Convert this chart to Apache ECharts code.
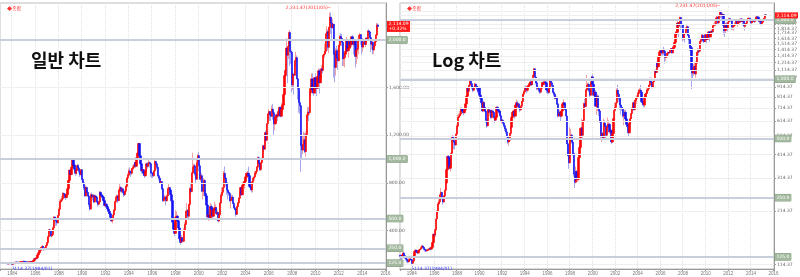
<!DOCTYPE html>
<html><head><meta charset="utf-8">
<script src="https://cdn.jsdelivr.net/npm/echarts@6/dist/echarts.min.js"></script>
<style>html,body{margin:0;padding:0;background:#fff}#c{width:800px;height:277px}</style>
</head><body><div id="c"></div><script>
// Monthly KOSPI-like index, 1983/01 .. 2015/05
const closeValues = [
126,124,128,131,127,125,122,120,118,121,122,121,
116,119,127,133,135,133,131,134,136,137,139,142,
140,137,136,134,135,136,137,138,137,140,148,163,
162,172,195,212,232,238,258,266,252,238,255,273,
297,347,405,400,353,363,421,513,503,479,464,525,
577,640,651,665,710,707,689,677,700,750,820,907,
870,930,1003,950,915,880,905,945,925,900,870,910,
830,800,760,690,760,720,690,620,580,700,680,696,
640,690,680,640,620,640,720,700,690,680,650,610,
620,600,580,560,540,510,480,490,530,570,640,678,
690,650,740,760,730,750,720,700,730,770,840,866,
900,890,880,920,930,950,970,940,1010,1050,1130,1027,
960,900,910,880,860,900,960,940,960,970,960,883,
880,860,900,980,960,930,860,840,800,810,750,651,
670,680,650,690,750,760,740,700,650,470,410,376,
510,520,480,420,330,300,340,310,310,400,450,562,
567,520,618,752,728,883,931,943,877,830,968,1028,
943,830,860,730,730,820,710,690,613,514,530,505,
600,580,520,570,590,590,540,550,480,530,630,694,
720,760,880,840,800,740,720,710,650,660,680,628,
590,575,535,600,630,670,710,760,700,780,800,811,
850,880,880,860,770,760,740,810,840,850,880,896,
932,1011,965,911,970,1008,1111,1083,1221,1158,1297,1379,
1399,1371,1359,1419,1389,1295,1297,1352,1371,1364,1399,1434,
1360,1417,1453,1542,1701,1744,1933,1873,1946,2064,1906,1897,
1624,1711,1704,1825,1852,1674,1594,1474,1448,1113,1076,1124,
1162,1063,1206,1369,1395,1390,1557,1591,1673,1580,1555,1683,
1602,1594,1693,1741,1641,1699,1759,1743,1873,1883,1905,2051,
2069,1939,2107,2192,2142,2101,2133,1880,1770,1910,1848,1826,
1956,2030,2014,1982,1843,1854,1881,1905,1996,1912,1932,1997,
1961,2027,2005,1964,2001,1863,1914,1926,1997,2040,2045,2011,
1941,1980,1986,1962,2017,2002,2076,2068,2020,1964,1981,1916,
1950,1986,2041,2127,2114
];
const highValues = [
128,127,129,133,132,128,126,123,121,123,124,124,
122,121,128,135,137,136,134,135,137,139,141,143,
144,141,138,137,136,138,139,140,139,141,149,164,
164,174,197,216,236,245,262,280,268,254,258,275,
302,350,410,415,400,370,430,520,515,515,480,530,
590,660,670,690,720,720,710,700,715,760,830,910,
915,935,1005,1008,955,920,915,960,955,930,905,915,
915,840,805,765,780,770,730,700,630,710,720,705,
700,700,700,690,650,650,730,730,710,700,690,660,
650,630,610,585,565,545,515,495,535,580,650,690,
700,700,745,790,775,760,760,730,740,780,845,880,
920,930,900,925,945,955,975,975,1015,1055,1138,1135,
1035,970,935,915,890,910,970,975,985,990,980,960,
900,890,905,990,985,965,930,870,845,830,815,760,
690,700,690,700,760,790,760,750,710,650,500,470,
570,560,530,490,420,330,360,345,330,420,470,565,
630,580,620,760,795,890,1052,960,960,890,1010,1040,
1059,960,900,880,770,840,830,740,700,620,580,540,
630,620,590,580,640,620,600,570,555,540,635,710,
760,760,900,937,850,810,790,740,720,680,700,700,
640,610,580,610,640,680,720,760,770,790,815,830,
860,890,900,936,860,800,760,820,850,900,890,900,
940,1020,1022,970,970,1010,1115,1120,1225,1240,1300,1385,
1420,1400,1390,1450,1464,1390,1320,1360,1380,1380,1410,1440,
1440,1470,1460,1550,1710,1810,2015,1950,1990,2085,2050,1990,
1910,1725,1720,1830,1900,1870,1680,1600,1570,1450,1200,1200,
1230,1220,1230,1380,1440,1435,1570,1620,1720,1720,1600,1690,
1720,1630,1700,1760,1760,1730,1790,1790,1880,1925,1970,2055,
2115,2090,2110,2230,2231.47,2140,2180,2130,1900,1930,1950,1925,
1960,2040,2057,2050,1980,1900,1890,1950,2025,2000,1940,2000,
2010,2030,2040,2010,2010,2000,1915,1930,2010,2060,2060,2050,
2010,1990,2000,2010,2020,2020,2082,2090,2080,2030,1990,1990,
1960,1990,2050,2143,2140
];
const lowValues = [
121,121,123,127,125,122,120,117,116,117,119,119,
114.37,115,118,126,131,131,129,130,133,135,136,138,
138,135,133,132,133,134,135,136,135,136,139,147,
155,158,170,190,205,225,235,250,245,230,236,252,
270,295,345,375,350,340,360,420,475,440,440,460,
520,570,630,640,660,680,670,655,670,695,745,815,
860,865,925,935,890,860,870,900,910,880,850,860,
820,790,740,680,690,700,680,600,566,575,670,650,
630,630,660,630,600,610,640,690,670,660,640,600,
595,590,570,545,530,505,470,459,480,520,560,630,
665,630,650,720,720,715,710,680,690,720,760,820,
860,860,850,865,900,910,930,925,935,990,1040,1010,
940,880,880,860,840,850,890,920,930,950,930,850,
840,840,850,895,940,910,850,820,790,790,740,640,
640,650,610,640,690,740,720,690,630,470,406,350.68,
376,480,470,410,320,280,295,300,300,305,395,440,
520,500,505,610,700,720,870,880,860,800,830,910,
900,830,810,725,660,690,700,650,600,500,480,490,
505,570,500,510,560,570,530,530,468,475,525,620,
680,700,770,830,770,700,660,690,640,584,650,620,
585,570,515,530,590,630,660,700,690,700,770,750,
800,850,840,860,770,740,719,720,800,820,840,860,
870,930,960,900,900,960,1000,1060,1080,1120,1150,1300,
1330,1320,1320,1360,1330,1203,1240,1290,1300,1320,1350,1380,
1350,1360,1390,1450,1540,1690,1740,1638,1840,1920,1780,1800,
1560,1580,1540,1700,1780,1670,1500,1390,1380,892,1000,1040,
1070,1050,1020,1190,1340,1320,1370,1530,1580,1550,1530,1550,
1550,1530,1600,1660,1550,1640,1680,1720,1760,1850,1880,1880,
2020,1910,1890,2100,2050,2010,2100,1684,1644,1700,1800,1750,
1820,1940,2000,1950,1780,1780,1770,1870,1900,1900,1850,1930,
1930,1940,1980,1880,1940,1770,1800,1840,1880,2000,1990,1960,
1880,1900,1930,1960,1940,1980,1990,2040,2010,1900,1920,1880,
1880,1930,1970,2040,2080
];
const firstOpen = 127.31;
const levelValues = [2000, 1000, 500, 250, 125];
const levelLabels = ['2,000.0', '1,000.0', '500.0', '250.0', '125.0'];
const linearTicks = [400, 800, 1200, 1600];
const linearTickLabels = ['400.00', '800.00', '1,200.00', '1,600.00'];
const logTicks = [114.37,214.37,314.37,414.37,514.37,614.37,714.37,814.37,914.37,1014.37,1114.37,1214.37,1314.37,1414.37,1514.37,1614.37,1714.37,1814.37,1914.37,2014.37,2114.37,2214.37];
const logTickLabels = ['114.37','214.37','314.37','414.37','514.37','614.37','714.37','814.37','914.37','1,014.37','1,114.37','1,214.37','1,314.37','1,414.37','1,514.37','1,614.37','1,714.37','1,814.37','1,914.37','2,014.37','2,114.37','2,214.37'];
const maxPoint = { month: '2011/05', value: 2231.47, text: '2,231.47(2011/05)─' };
const minPoint = { month: '1984/01', value: 114.37, text: '└114.37(1984/01)' };
const lastLabelLinear = '2,114.09\n+0.32%';
const lastLabelLog = '2,114.09';
const panelTitles = ['일반 차트', 'Log 차트'];

const months = [];
for (let y = 1983; y <= 2016; y++) {
  for (let m = 1; m <= 12; m++) {
    if (y === 2016 && m > 1) break;
    months.push(y + '/' + String(m).padStart(2, '0'));
  }
}
const bodyData = closeValues.map((c, i) => {
  const o = i ? closeValues[i - 1] : firstOpen;
  return [o, c, Math.min(o, c), Math.max(o, c)];
});
const wickData = closeValues.map((c, i) => {
  const o = i ? closeValues[i - 1] : firstOpen;
  return [o, c, lowValues[i], highValues[i]];
});
const lastClose = closeValues[closeValues.length - 1];

const labelInterval = (idx, v) => v.endsWith('/01') && (idx === 0 || (+v.slice(0, 4)) % 2 === 0);
const nearestLabel = (ticks, labels) => v => {
  let bi = 0, bd = Infinity;
  ticks.forEach((t, i) => { const d = Math.abs(t - v); if (d < bd) { bd = d; bi = i; } });
  return labels[bi];
};

function xAxisFor(k) {
  return {
    type: 'category', gridIndex: k, data: months, boundaryGap: true,
    axisLine: { lineStyle: { color: '#999', width: 1 } },
    axisTick: { show: true, interval: labelInterval, length: 2, lineStyle: { color: '#999' } },
    axisLabel: { interval: labelInterval, formatter: v => v.slice(0, 4), fontSize: 4.5, color: '#777', margin: 2, alignMinLabel: 'left' },
    splitLine: { show: true, interval: labelInterval, lineStyle: { color: '#e2e2e2', type: 'dotted' } }
  };
}

function panelSeries(k, ticks, lastLabel) {
  return [
    {
      type: 'candlestick', xAxisIndex: k, yAxisIndex: k, data: wickData, barWidth: 0.6, silent: true, z: 2,
      itemStyle: { color: '#f5a0a0', color0: '#a8a8f0', borderColor: '#f5a0a0', borderColor0: '#a8a8f0', borderWidth: 1 },
      markLine: {
        silent: true, symbol: ['none', 'none'], animation: false,
        data: ticks.map(t => ({ yAxis: t, lineStyle: { color: '#efefef', width: 1, type: 'solid' }, label: { show: false } }))
          .concat(levelValues.map((v, i) => ({
            yAxis: v,
            lineStyle: { color: '#c9cedc', width: 2, type: 'solid' },
            label: {
              show: true, position: 'end', distance: 1, formatter: levelLabels[i],
              backgroundColor: '#a3b99f', borderColor: '#7f987b', borderWidth: 0.5,
              color: '#ffffff', fontSize: 4.5, padding: [1, 1.5, 0.5, 1.5], fontFamily: 'DejaVu Sans'
            }
          })))
      }
    },
    {
      type: 'candlestick', xAxisIndex: k, yAxisIndex: k, data: bodyData, barWidth: 1.8, z: 3,
      itemStyle: { color: '#ff0000', color0: '#1414f5', borderColor: '#ff0000', borderColor0: '#1414f5', borderWidth: 0.6 },
      markLine: {
        silent: true, symbol: ['none', 'none'], animation: false,
        data: [{ yAxis: lastClose, lineStyle: { color: 'rgba(0,0,0,0)', width: 0 },
          label: { show: true, position: 'end', distance: 1, formatter: lastLabel, backgroundColor: '#ff1a1a',
            color: '#fff', fontSize: 4.5, lineHeight: 5, padding: [0.5, 1.5, 0.5, 1.5], fontFamily: 'DejaVu Sans' } }]
      },
      markPoint: {
        silent: true, animation: false, symbol: 'circle', symbolSize: 1,
        itemStyle: { color: 'rgba(0,0,0,0)' },
        data: [
          { coord: [maxPoint.month, maxPoint.value],
            label: { show: true, position: 'left', distance: 0, offset: [0, -5], formatter: maxPoint.text, color: '#ff3030', fontSize: 4.5, fontFamily: 'DejaVu Sans' } },
          { coord: [minPoint.month, minPoint.value],
            label: { show: true, position: 'right', distance: 0, offset: [-1, 4], formatter: minPoint.text, color: '#4040ff', fontSize: 4.5, fontFamily: 'DejaVu Sans' } }
        ]
      }
    }
  ];
}

const chart = echarts.init(document.getElementById('c'), null, { renderer: 'canvas' });
chart.setOption({
  animation: false,
  backgroundColor: '#ffffff',
  title: [
    { text: panelTitles[0], left: 26, top: 46, textStyle: { fontSize: 18, fontWeight: 'bold', color: '#111', fontFamily: 'Noto Sans CJK KR' } },
    { text: panelTitles[1], left: 427, top: 46, textStyle: { fontSize: 18, fontWeight: 'bold', color: '#111', fontFamily: 'Noto Sans CJK KR' } },
    { text: '◆종합', left: 2, top: 1, textStyle: { fontSize: 5, color: '#ff3030', fontWeight: 'normal', fontFamily: 'Noto Sans CJK KR' } },
    { text: '◆종합', left: 402, top: 1, textStyle: { fontSize: 5, color: '#ff3030', fontWeight: 'normal', fontFamily: 'Noto Sans CJK KR' } }
  ],
  grid: [
    { left: 0, top: 3, width: 386, height: 266, show: true, borderColor: '#bbb', borderWidth: 1 },
    { left: 400, top: 3, width: 385, height: 266, show: true, borderColor: '#bbb', borderWidth: 1 }
  ],
  xAxis: [xAxisFor(0), xAxisFor(1)],
  yAxis: [
    {
      type: 'value', gridIndex: 0, position: 'right', min: 76, max: 2311,
      axisLine: { show: true, lineStyle: { color: '#999' } },
      splitLine: { show: false },
      axisTick: { show: true, customValues: linearTicks, length: 2, lineStyle: { color: '#999' } },
      axisLabel: { customValues: linearTicks, formatter: nearestLabel(linearTicks, linearTickLabels), fontSize: 4.5, color: '#666', margin: 3, fontFamily: 'DejaVu Sans' }
    },
    {
      type: 'log', logBase: 10, gridIndex: 1, position: 'right', min: 108.5, max: 2443,
      axisLine: { show: true, lineStyle: { color: '#999' } },
      splitLine: { show: false }, minorSplitLine: { show: false },
      axisTick: { show: true, customValues: logTicks, length: 2, lineStyle: { color: '#999' } },
      axisLabel: { customValues: logTicks, formatter: nearestLabel(logTicks, logTickLabels), fontSize: 4.5, color: '#666', margin: 3, fontFamily: 'DejaVu Sans' }
    }
  ],
  series: panelSeries(0, linearTicks, lastLabelLinear).concat(panelSeries(1, logTicks, lastLabelLog))
});
</script></body></html>
